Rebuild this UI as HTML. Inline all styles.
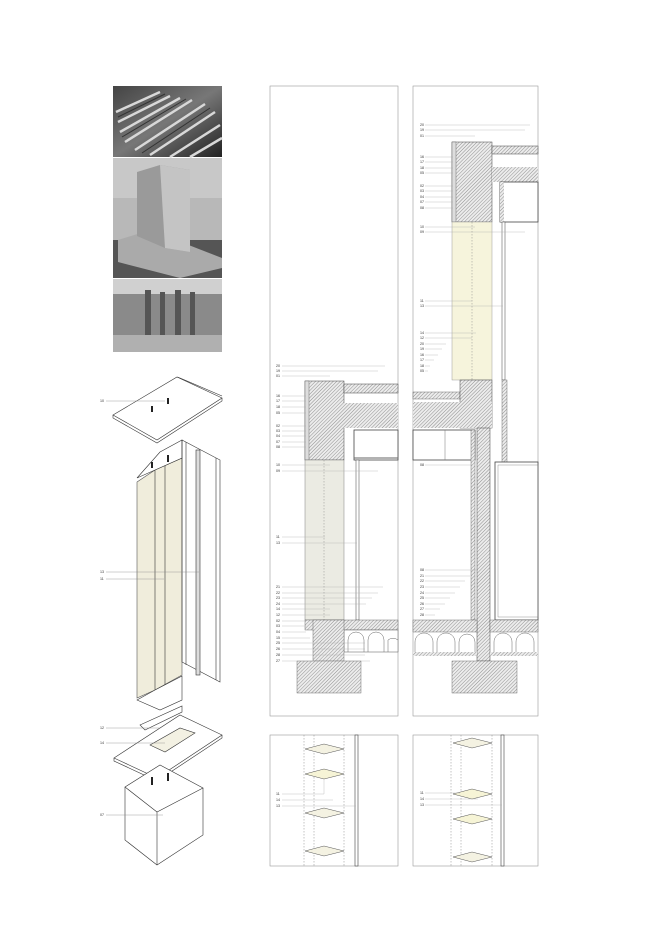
<!DOCTYPE html>
<html><head><meta charset="utf-8"><style>body{margin:0;background:#fff}svg{display:block}text{font-family:"Liberation Sans",sans-serif;font-size:3.6px;fill:#333}</style></head><body>
<svg width="670" height="947" viewBox="0 0 670 947" xmlns="http://www.w3.org/2000/svg">
<defs>
<pattern id="h" width="2.5" height="2.5" patternUnits="userSpaceOnUse" patternTransform="rotate(45)"><rect width="2.5" height="2.5" fill="#ececec"/><line x1="0" y1="0" x2="0" y2="2.5" stroke="#777" stroke-width="0.8"/></pattern>
<linearGradient id="p1" x1="0" y1="0" x2="1" y2="1"><stop offset="0" stop-color="#444"/><stop offset=".5" stop-color="#777"/><stop offset="1" stop-color="#222"/></linearGradient>
</defs>
<!-- photos -->
<rect x="113" y="86" width="109" height="71" fill="url(#p1)"/>
<g stroke="#d8d8d8" stroke-width="2.5">
<line x1="116" y1="112" x2="160" y2="92"/><line x1="118" y1="122" x2="170" y2="96"/><line x1="120" y1="132" x2="180" y2="98"/><line x1="125" y1="142" x2="192" y2="100"/><line x1="135" y1="150" x2="205" y2="104"/><line x1="150" y1="155" x2="215" y2="112"/><line x1="170" y1="157" x2="220" y2="125"/><line x1="190" y1="157" x2="222" y2="138"/></g>
<g stroke="#333" stroke-width="1"><line x1="118" y1="117" x2="165" y2="94"/><line x1="122" y1="137" x2="186" y2="99"/><line x1="142" y1="153" x2="210" y2="108"/></g>
<rect x="113" y="158" width="109" height="120" fill="#b8b8b8"/>
<rect x="113" y="158" width="109" height="40" fill="#c8c8c8"/>
<rect x="113" y="240" width="109" height="38" fill="#555"/>
<polygon points="118,240 150,230 222,258 222,268 180,278 118,262" fill="#aaa"/>
<polygon points="137,172 160,165 190,170 190,252 165,248 137,236" fill="#9a9a9a"/>
<polygon points="160,165 190,170 190,252 165,248" fill="#c4c4c4"/>
<rect x="113" y="279" width="109" height="73" fill="#8a8a8a"/>
<rect x="113" y="279" width="109" height="15" fill="#d0d0d0"/>
<g fill="#555"><rect x="145" y="290" width="6" height="45"/><rect x="160" y="292" width="5" height="45"/><rect x="175" y="290" width="6" height="45"/><rect x="190" y="292" width="5" height="45"/></g>
<rect x="113" y="335" width="109" height="17" fill="#b0b0b0"/>
<!-- isometric -->
<g fill="none" stroke="#333" stroke-width="0.6">
<polygon points="113,415 177,377 222,398 157,440" fill="#fff"/>
<polyline points="113,415 113,418 157,443 222,401 222,398"/>
<polyline points="177,377 180,378 222,396"/>
<polygon points="137,482 155,470 182,458 182,675 155,690 137,698" fill="#f0eddc" stroke="#555"/>
<line x1="155" y1="470" x2="155" y2="690"/><line x1="165" y1="465" x2="165" y2="685"/>
<polygon points="137,478 160,452 182,440 182,458 155,470" fill="#fff"/>
<polygon points="137,700 155,690 182,676 182,700 160,710" fill="#fff"/>
<polygon points="140,725 182,706 182,712 145,730" fill="#fff"/>
<polygon points="182,440 220,460 220,682 182,662" fill="none"/>
<rect x="196" y="450" width="4" height="225" fill="#ddd"/>
<line x1="186" y1="442" x2="186" y2="665"/><line x1="216" y1="458" x2="216" y2="680"/>
<polygon points="114,758 180,715 222,735 157,778" fill="#fff"/>
<polyline points="114,758 114,761 157,781 222,738 222,735"/>
<polygon points="150,745 180,728 195,733 165,752" fill="#f3f1e3"/>
<polygon points="125,787 160,765 203,788 157,812" fill="#fff"/>
<polyline points="125,787 125,840 157,865 203,835 203,788"/>
<line x1="157" y1="812" x2="157" y2="865"/>
</g>
<g fill="#222"><rect x="151" y="406" width="2" height="6"/><rect x="167" y="398" width="2" height="6"/><rect x="151" y="462" width="2" height="6"/><rect x="167" y="455" width="2" height="7"/><rect x="151" y="777" width="2" height="8"/><rect x="167" y="773" width="2" height="8"/></g>
<g stroke="#888" stroke-width="0.4"><line x1="106" y1="401" x2="165" y2="401"/><line x1="106" y1="572" x2="199" y2="572"/><line x1="106" y1="579" x2="164" y2="579"/><line x1="106" y1="728" x2="160" y2="728"/><line x1="106" y1="743" x2="165" y2="743"/><line x1="106" y1="815" x2="163" y2="815"/></g>
<text x="100" y="402">10</text><text x="100" y="573">13</text><text x="100" y="580">11</text><text x="100" y="729">12</text><text x="100" y="744">14</text><text x="100" y="816">07</text>
<!-- panels -->
<g fill="none" stroke="#999" stroke-width="0.6">
<rect x="270" y="86" width="128" height="630"/><rect x="413" y="86" width="125" height="630"/>
<rect x="270" y="735" width="128" height="131"/><rect x="413" y="735" width="125" height="131"/></g>
<!-- left section -->
<rect x="305" y="381" width="39" height="79" fill="url(#h)" stroke="#444" stroke-width="0.5"/>
<rect x="305" y="403" width="93" height="25" fill="url(#h)"/>
<rect x="344" y="384" width="54" height="9" fill="url(#h)" stroke="#444" stroke-width="0.5"/>
<rect x="305" y="381" width="4" height="79" fill="#ddd" stroke="#555" stroke-width="0.4"/>
<rect x="354" y="430" width="44" height="30" fill="#fff" stroke="#444" stroke-width="0.8"/>
<line x1="354" y1="458" x2="398" y2="458" stroke="#666"/>
<rect x="305" y="460" width="39" height="160" fill="#ebebe3" stroke="#666" stroke-width="0.4"/>
<line x1="324" y1="460" x2="324" y2="620" stroke="#777" stroke-width="0.4" stroke-dasharray="1.5,1.5"/>
<rect x="356" y="460" width="3" height="160" fill="#fff" stroke="#444" stroke-width="0.5"/>
<rect x="305" y="620" width="93" height="10" fill="url(#h)" stroke="#555" stroke-width="0.4"/>
<rect x="344" y="630" width="54" height="22" fill="#fff" stroke="#555" stroke-width="0.5"/>
<g fill="none" stroke="#666" stroke-width="0.5"><path d="M348,652 v-12 a8,8 0 0 1 16,0 v12"/><path d="M368,652 v-12 a8,8 0 0 1 16,0 v12"/><path d="M388,652 v-12 a8,8 0 0 1 10,0"/></g>
<rect x="313" y="620" width="31" height="41" fill="url(#h)" stroke="#555" stroke-width="0.4"/>
<rect x="297" y="661" width="64" height="32" fill="url(#h)" stroke="#555" stroke-width="0.4"/>
<g stroke="#aaa" stroke-width="0.35">
<line x1="282" y1="366" x2="385" y2="366"/><line x1="282" y1="371" x2="378" y2="371"/><line x1="282" y1="376" x2="330" y2="376"/>
<line x1="282" y1="396" x2="306" y2="396"/><line x1="282" y1="401" x2="306" y2="401"/><line x1="282" y1="407" x2="306" y2="407"/><line x1="282" y1="413" x2="306" y2="413"/>
<line x1="282" y1="426" x2="306" y2="426"/><line x1="282" y1="431" x2="306" y2="431"/><line x1="282" y1="436" x2="306" y2="436"/><line x1="282" y1="442" x2="306" y2="442"/><line x1="282" y1="447" x2="306" y2="447"/>
<line x1="282" y1="465" x2="330" y2="465"/><line x1="282" y1="471" x2="378" y2="471"/>
<line x1="282" y1="537" x2="325" y2="537"/><line x1="282" y1="543" x2="357" y2="543"/>
<line x1="282" y1="587" x2="383" y2="587"/><line x1="282" y1="593" x2="378" y2="593"/><line x1="282" y1="598" x2="372" y2="598"/><line x1="282" y1="604" x2="366" y2="604"/><line x1="282" y1="609" x2="330" y2="609"/><line x1="282" y1="615" x2="330" y2="615"/>
<line x1="282" y1="621" x2="306" y2="621"/><line x1="282" y1="626" x2="306" y2="626"/><line x1="282" y1="632" x2="306" y2="632"/><line x1="282" y1="638" x2="310" y2="638"/><line x1="282" y1="643" x2="365" y2="643"/><line x1="282" y1="649" x2="365" y2="649"/><line x1="282" y1="655" x2="365" y2="655"/><line x1="282" y1="661" x2="370" y2="661"/></g>
<g><text x="276" y="367">20</text><text x="276" y="372">19</text><text x="276" y="377">01</text><text x="276" y="397">16</text><text x="276" y="402">17</text><text x="276" y="408">18</text><text x="276" y="414">05</text><text x="276" y="427">02</text><text x="276" y="432">03</text><text x="276" y="437">04</text><text x="276" y="443">07</text><text x="276" y="448">08</text><text x="276" y="466">10</text><text x="276" y="472">09</text><text x="276" y="538">11</text><text x="276" y="544">13</text><text x="276" y="588">21</text><text x="276" y="594">22</text><text x="276" y="599">23</text><text x="276" y="605">24</text><text x="276" y="610">14</text><text x="276" y="616">12</text><text x="276" y="622">02</text><text x="276" y="627">03</text><text x="276" y="633">04</text><text x="276" y="639">15</text><text x="276" y="644">25</text><text x="276" y="650">26</text><text x="276" y="656">28</text><text x="276" y="662">27</text></g>
<!-- right section top -->
<rect x="452" y="142" width="40" height="80" fill="url(#h)" stroke="#444" stroke-width="0.5"/>
<rect x="452" y="142" width="4" height="80" fill="#ddd" stroke="#555" stroke-width="0.4"/>
<rect x="492" y="167" width="46" height="15" fill="url(#h)"/>
<rect x="492" y="146" width="46" height="8" fill="url(#h)" stroke="#444" stroke-width="0.5"/>
<rect x="500" y="182" width="38" height="40" fill="#fff" stroke="#444" stroke-width="0.8"/>
<rect x="500" y="182" width="4" height="40" fill="url(#h)"/>
<rect x="452" y="222" width="40" height="158" fill="#f6f4dc" stroke="#888" stroke-width="0.4"/>
<line x1="472" y1="222" x2="472" y2="380" stroke="#777" stroke-width="0.4" stroke-dasharray="1.5,1.5"/>
<rect x="502" y="222" width="3" height="158" fill="#fff" stroke="#444" stroke-width="0.5"/>
<!-- right section lower -->
<rect x="413" y="392" width="47" height="7" fill="url(#h)" stroke="#555" stroke-width="0.4"/>
<rect x="460" y="380" width="32" height="48" fill="url(#h)" stroke="#444" stroke-width="0.5"/>
<rect x="413" y="402" width="79" height="26" fill="url(#h)"/>
<rect x="477" y="428" width="13" height="233" fill="url(#h)" stroke="#444" stroke-width="0.5"/>
<rect x="502" y="380" width="5" height="87" fill="url(#h)" stroke="#555" stroke-width="0.4"/>
<rect x="413" y="430" width="62" height="30" fill="#fff" stroke="#444" stroke-width="0.8"/>
<line x1="445" y1="430" x2="445" y2="460" stroke="#777" stroke-width="0.5"/>
<rect x="471" y="430" width="4" height="190" fill="url(#h)" stroke="#555" stroke-width="0.4"/>
<rect x="495" y="462" width="43" height="158" fill="#fff" stroke="#444" stroke-width="0.8"/>
<rect x="498" y="465" width="40" height="152" fill="none" stroke="#777" stroke-width="0.4"/>
<rect x="413" y="620" width="64" height="12" fill="url(#h)" stroke="#555" stroke-width="0.4"/>
<rect x="490" y="620" width="48" height="12" fill="url(#h)" stroke="#555" stroke-width="0.4"/>
<g fill="none" stroke="#666" stroke-width="0.5"><path d="M415,652 v-10 a9,9 0 0 1 18,0 v10"/><path d="M437,652 v-10 a9,9 0 0 1 18,0 v10"/><path d="M459,652 v-10 a8,8 0 0 1 16,0 v10"/><path d="M494,652 v-10 a9,9 0 0 1 18,0 v10"/><path d="M516,652 v-10 a9,9 0 0 1 18,0 v10"/></g>
<rect x="413" y="652" width="64" height="4" fill="url(#h)"/><rect x="490" y="652" width="48" height="4" fill="url(#h)"/>
<rect x="452" y="661" width="65" height="32" fill="url(#h)" stroke="#555" stroke-width="0.4"/>
<g stroke="#aaa" stroke-width="0.35">
<line x1="425" y1="125" x2="530" y2="125"/><line x1="425" y1="130" x2="525" y2="130"/><line x1="425" y1="136" x2="475" y2="136"/>
<line x1="425" y1="157" x2="453" y2="157"/><line x1="425" y1="162" x2="453" y2="162"/><line x1="425" y1="168" x2="453" y2="168"/><line x1="425" y1="173" x2="453" y2="173"/>
<line x1="425" y1="186" x2="453" y2="186"/><line x1="425" y1="191" x2="453" y2="191"/><line x1="425" y1="197" x2="453" y2="197"/><line x1="425" y1="202" x2="453" y2="202"/><line x1="425" y1="208" x2="453" y2="208"/>
<line x1="425" y1="227" x2="475" y2="227"/><line x1="425" y1="232" x2="525" y2="232"/>
<line x1="425" y1="301" x2="472" y2="301"/><line x1="425" y1="306" x2="503" y2="306"/>
<line x1="425" y1="333" x2="476" y2="333"/><line x1="425" y1="338" x2="472" y2="338"/><line x1="425" y1="344" x2="446" y2="344"/><line x1="425" y1="349" x2="442" y2="349"/><line x1="425" y1="355" x2="438" y2="355"/><line x1="425" y1="360" x2="434" y2="360"/><line x1="425" y1="366" x2="430" y2="366"/><line x1="425" y1="371" x2="428" y2="371"/>
<line x1="425" y1="465" x2="472" y2="465"/>
<line x1="425" y1="570" x2="478" y2="570"/><line x1="425" y1="576" x2="470" y2="576"/><line x1="425" y1="581" x2="465" y2="581"/><line x1="425" y1="587" x2="460" y2="587"/><line x1="425" y1="593" x2="455" y2="593"/><line x1="425" y1="598" x2="450" y2="598"/><line x1="425" y1="604" x2="445" y2="604"/><line x1="425" y1="609" x2="440" y2="609"/><line x1="425" y1="615" x2="435" y2="615"/></g>
<g><text x="420" y="126">20</text><text x="420" y="131">19</text><text x="420" y="137">01</text><text x="420" y="158">16</text><text x="420" y="163">17</text><text x="420" y="169">18</text><text x="420" y="174">05</text><text x="420" y="187">02</text><text x="420" y="192">03</text><text x="420" y="198">04</text><text x="420" y="203">07</text><text x="420" y="209">08</text><text x="420" y="228">10</text><text x="420" y="233">09</text><text x="420" y="302">11</text><text x="420" y="307">13</text><text x="420" y="334">14</text><text x="420" y="339">12</text><text x="420" y="345">20</text><text x="420" y="350">19</text><text x="420" y="356">16</text><text x="420" y="361">17</text><text x="420" y="367">18</text><text x="420" y="372">05</text><text x="420" y="466">08</text><text x="420" y="571">08</text><text x="420" y="577">21</text><text x="420" y="582">22</text><text x="420" y="588">23</text><text x="420" y="594">24</text><text x="420" y="599">25</text><text x="420" y="605">26</text><text x="420" y="610">27</text><text x="420" y="616">28</text></g>
<!-- bottom plans -->
<g stroke="#888" stroke-width="0.5" stroke-dasharray="1.5,1.5"><line x1="304" y1="735" x2="304" y2="866"/><line x1="314" y1="735" x2="314" y2="866"/><line x1="344" y1="735" x2="344" y2="866"/><line x1="451" y1="735" x2="451" y2="866"/><line x1="461" y1="735" x2="461" y2="866"/><line x1="492" y1="735" x2="492" y2="866"/></g>
<g fill="#fff" stroke="#444" stroke-width="0.6"><rect x="355" y="735" width="3" height="131"/><rect x="501" y="735" width="3" height="131"/></g>
<g fill="#f4f2e2" stroke="#555" stroke-width="0.5">
<polygon points="305,749 324,744 344,749 324,754"/><polygon points="305,774 324,769 344,774 324,779" fill="#f6f4d6"/><polygon points="305,813 324,808 344,813 324,818"/><polygon points="305,851 324,846 344,851 324,856"/>
<polygon points="453,743 472,738 492,743 472,748"/><polygon points="453,794 472,789 492,794 472,799" fill="#f6f4d6"/><polygon points="453,819 472,814 492,819 472,824" fill="#f6f4d6"/><polygon points="453,857 472,852 492,857 472,862"/></g>
<g stroke="#aaa" stroke-width="0.35"><line x1="282" y1="794" x2="324" y2="794"/><line x1="324" y1="779" x2="324" y2="794"/><line x1="282" y1="800" x2="333" y2="800"/><line x1="282" y1="806" x2="356" y2="806"/><line x1="425" y1="793" x2="460" y2="793"/><line x1="425" y1="799" x2="478" y2="799"/><line x1="425" y1="805" x2="502" y2="805"/></g>
<text x="276" y="795">11</text><text x="276" y="801">14</text><text x="276" y="807">13</text><text x="420" y="794">11</text><text x="420" y="800">14</text><text x="420" y="806">13</text>
</svg>
</body></html>
